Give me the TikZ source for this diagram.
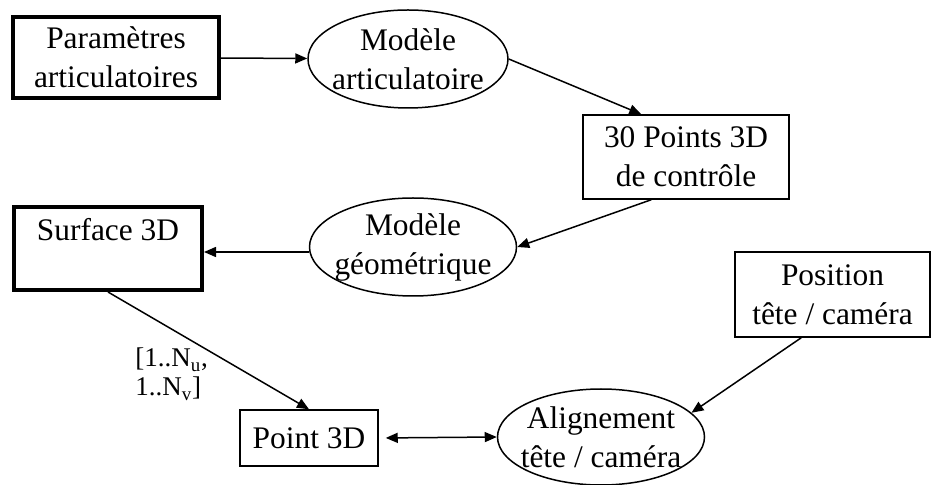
\documentclass[tikz,border=0pt]{standalone}
\usepackage{fontspec}
\setmainfont{Liberation Serif}
\usetikzlibrary{shapes.geometric, arrows.meta}
\tikzset{
  block/.style={draw, line width=0.75pt, inner sep=0pt, align=center,
                font=\fontsize{15.7}{19.5}\selectfont},
  heavy/.style={block, line width=2pt},
  oval/.style={block, ellipse, inner sep=-10pt},
  flow/.style={-{Triangle[length=6pt, width=5pt]}, line width=0.75pt},
  twoway/.style={{Triangle[length=6pt, width=5pt]}-{Triangle[length=6pt, width=5pt]},
                 line width=0.75pt},
  idx/.style={font=\fontsize{13.5}{14.5}\selectfont, align=left, inner sep=1pt},
}

\begin{document}
\begin{tikzpicture}[x=0.5pt, y=-0.5pt]
  \useasboundingbox (0,0) rectangle (931,485);

  \node[heavy, minimum width=103pt, minimum height=40.5pt] (param) at (116,57.5)
        {Paramètres\\articulatoires};
  \node[oval, minimum width=100pt, minimum height=49pt] (modart) at (408,59)
        {Modèle\\articulatoire};
  \node[block, minimum width=103pt, minimum height=42pt] (ctrl) at (686,157)
        {30 Points 3D\\de contrôle};
  \node[oval, minimum width=103.5pt, minimum height=49pt] (modgeo) at (413,247)
        {Modèle\\géométrique};
  \node[heavy, minimum width=94pt, minimum height=41.5pt] (surf) at (108,248.5)
        {Surface 3D\\\mbox{}};
  \node[block, minimum width=97.5pt, minimum height=42.5pt] (pose) at (832.5,294.5)
        {Position\\tête / caméra};
  \node[block, minimum width=69pt, minimum height=28pt] (pt) at (309,438)
        {Point 3D};
  \node[oval, minimum width=103.5pt, minimum height=48pt] (align) at (601,437)
        {Alignement\\tête / caméra};

  \draw[flow] (param) -- (modart);
  \draw[flow] (modart.east) -- ([xshift=29.5pt]ctrl.north west);
  \draw[flow] ([xshift=34.5pt]ctrl.south west) -- (modgeo.east);
  \draw[flow] ([yshift=-2.5pt]modgeo.west) -- ([yshift=-2.5pt]modgeo.west -| surf.east);
  \draw[flow] (surf.south) -- node[idx, pos=0.7, anchor=east, xshift=-19pt] (nuv)
        {[1..N\textsubscript{u},\\1..N\textsubscript{v}]} (pt.north);
  \draw[flow] ([xshift=33.5pt]pose.south west) -- (align.15);
  \draw[twoway, shorten <=3.5pt] (pt.east) -- (align.west);
\end{tikzpicture}
\end{document}
